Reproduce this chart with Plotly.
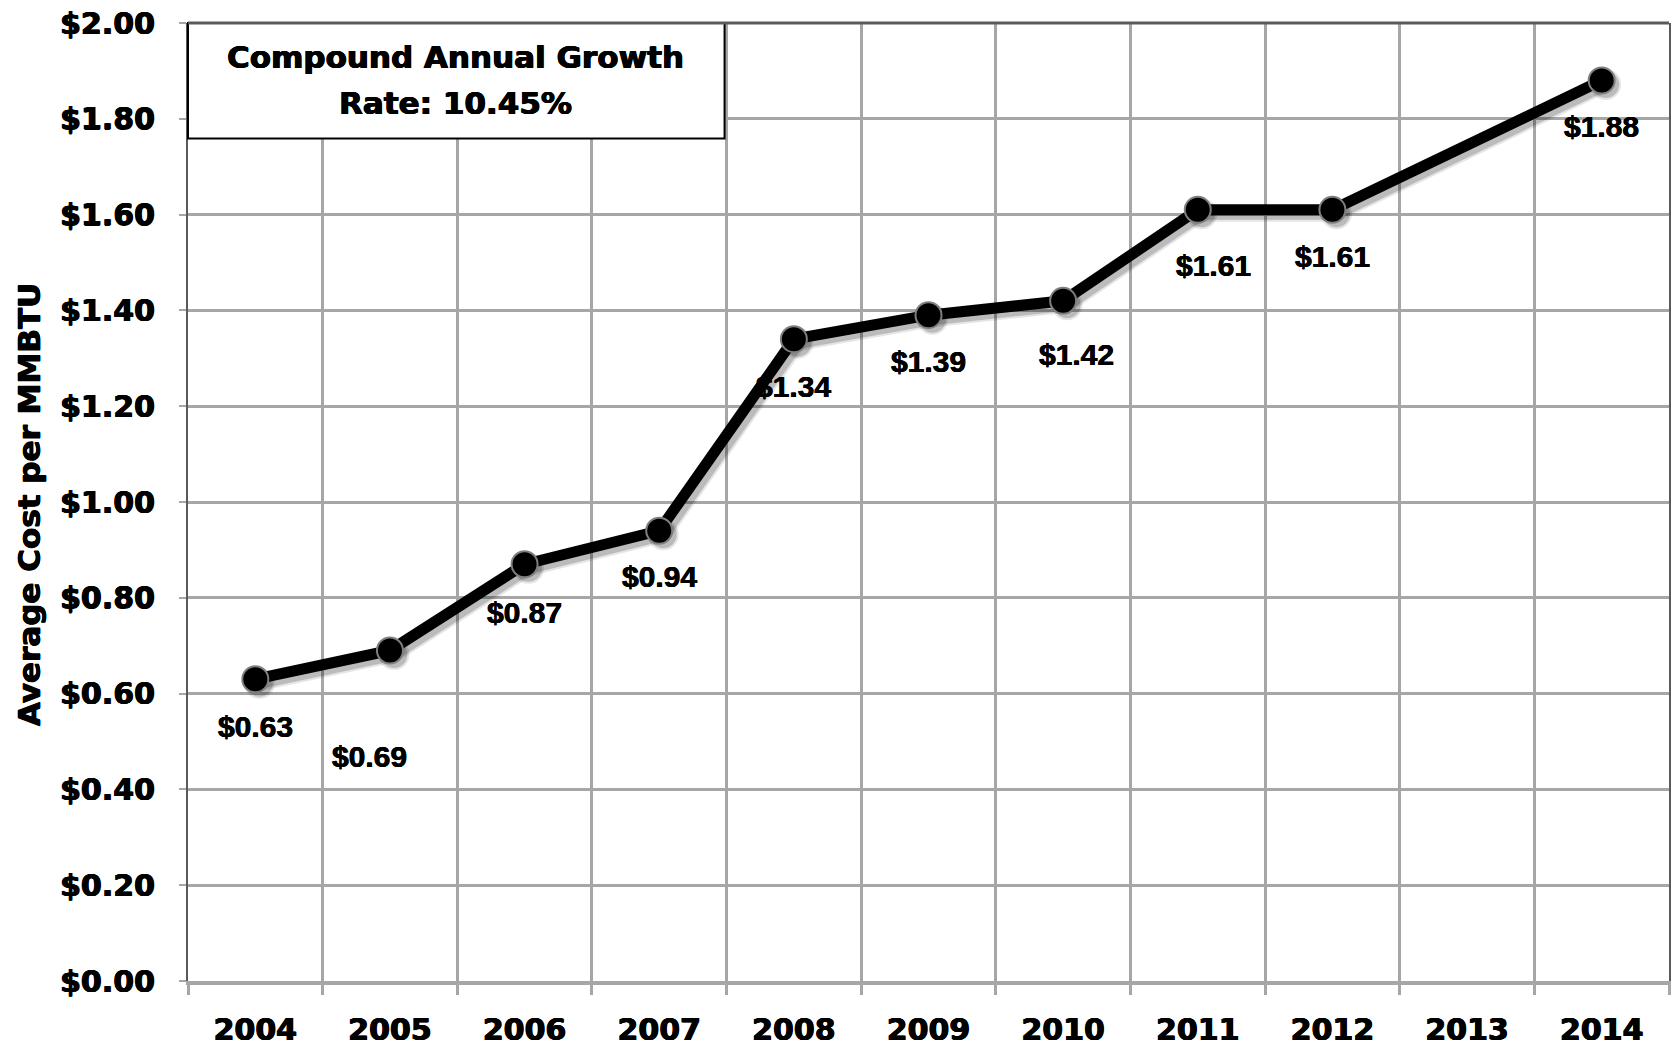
import plotly.graph_objects as go

# Average natural gas cost per MMBTU by year (2013 not reported)
years = ["2004", "2005", "2006", "2007", "2008", "2009", "2010", "2011", "2012", "2013", "2014"]
avg_cost = [0.63, 0.69, 0.87, 0.94, 1.34, 1.39, 1.42, 1.61, 1.61, None, 1.88]
y_ticks = [0.0, 0.2, 0.4, 0.6, 0.8, 1.0, 1.2, 1.4, 1.6, 1.8, 2.0]
y_tick_text = [f"${v:.2f}" for v in y_ticks]
cagr_lines = ["Compound Annual Growth", "Rate: 10.45%"]

# label offsets (px) relative to each point: (dx, dy)
label_offsets = [(0, -47), (-20, -106), (0, -48), (0, -46), (0, -47),
                 (0, -46), (13, -54), (16, -56), (0, -47), (0, 0), (0, -46)]

HEAVY = "DejaVu Sans, Arial Black, sans-serif"
LABEL = "Liberation Sans, Arial, sans-serif"
THICKEN = "0.6px 0 0 black, -0.6px 0 0 black, 0 0.4px 0 black"
THICKEN_LIGHT = "0.4px 0 0 black, -0.4px 0 0 black"
GRID = "#A6A6A6"
BORDER = "#5A5A5A"

X_RANGE = [-0.5, 10.5]
Y_RANGE = [0.0, 2.0]
PLOT_W, PLOT_H = 1672 - 188 - 3, 1046 - 23 - 65

fig = go.Figure()

# soft drop shadow under the series (drawn on an offset overlay axis pair)
sh_dx, sh_dy = 4, 4  # px right / down
dx_units = sh_dx * (X_RANGE[1] - X_RANGE[0]) / PLOT_W
dy_units = sh_dy * (Y_RANGE[1] - Y_RANGE[0]) / PLOT_H
for lw, ms, alpha in [(16, 31, 0.10), (12, 27, 0.18)]:
    fig.add_trace(go.Scatter(
        x=years, y=avg_cost, mode="lines+markers", connectgaps=True,
        xaxis="x2", yaxis="y2",
        line=dict(color=f"rgba(0,0,0,{alpha})", width=lw),
        marker=dict(size=ms, color=f"rgba(0,0,0,{alpha})", line=dict(width=0)),
        hoverinfo="skip", showlegend=False,
    ))

fig.add_trace(go.Scatter(
    x=years, y=avg_cost, mode="lines+markers", connectgaps=True,
    xaxis="x3", yaxis="y3",
    line=dict(color="black", width=11),
    marker=dict(size=26, color="black", line=dict(color="#7F7F7F", width=2)),
    hoverinfo="skip", showlegend=False,
))

for i, (val, (dx, dy)) in enumerate(zip(avg_cost, label_offsets)):
    if val is None:
        continue
    fig.add_annotation(
        x=i, y=val, xref="x", yref="y", text=f"${val:.2f}", showarrow=False,
        xshift=dx, yshift=dy, xanchor="center", yanchor="middle",
        font=dict(family=LABEL, size=30, color="black", weight="bold",
                  shadow=THICKEN_LIGHT),
    )

# Growth-rate callout box
fig.add_shape(type="rect", xref="paper", yref="paper",
              x0=0, x1=0.3623, y0=0.8794, y1=1.0,
              line=dict(color="black", width=2), fillcolor="white", layer="above")
for txt, ypos in zip(cagr_lines, [0.9644, 0.917]):
    fig.add_annotation(x=0.1808, y=ypos, xref="paper", yref="paper", text=txt,
                       showarrow=False, xanchor="center", yanchor="middle",
                       font=dict(family=HEAVY, size=31, color="black", weight="bold",
                                 shadow=THICKEN))

# Top border of plot area
fig.add_shape(type="line", xref="paper", yref="paper", x0=0, x1=1, y0=1, y1=1,
              line=dict(color=BORDER, width=3), layer="above")

# Y-axis title
fig.add_annotation(x=-0.1073, y=0.5, xref="paper", yref="paper",
                   text="Average Cost per MMBTU", textangle=-90, showarrow=False,
                   xanchor="center", yanchor="middle", yshift=-3,
                   font=dict(family=HEAVY, size=31, color="black", weight="bold",
                             shadow=THICKEN))

tick_font = dict(family=HEAVY, size=30, color="black", weight="bold", shadow=THICKEN)

fig.update_layout(
    xaxis=dict(
        type="category", categoryorder="array", categoryarray=years,
        tickson="boundaries", showgrid=True, gridcolor=GRID, gridwidth=3,
        showline=True, linecolor=GRID, linewidth=4,
        ticks="outside", ticklen=10, tickwidth=3, tickcolor=GRID,
        ticklabelstandoff=19, tickfont=tick_font,
        range=X_RANGE, fixedrange=True, automargin=False,
    ),
    yaxis=dict(
        range=Y_RANGE, tickmode="array", tickvals=y_ticks, ticktext=y_tick_text,
        showgrid=True, gridcolor=GRID, gridwidth=3, zeroline=False,
        showline=True, linecolor=BORDER, linewidth=2, mirror=True,
        ticks="outside", ticklen=7, tickwidth=2, tickcolor=GRID,
        ticklabelstandoff=18, tickfont=tick_font,
        fixedrange=True, automargin=False,
    ),
    xaxis2=dict(type="category", categoryorder="array", categoryarray=years,
                overlaying="x", visible=False, fixedrange=True,
                range=[X_RANGE[0] - dx_units, X_RANGE[1] - dx_units]),
    yaxis2=dict(overlaying="y", visible=False, fixedrange=True,
                range=[Y_RANGE[0] + dy_units, Y_RANGE[1] + dy_units]),
    xaxis3=dict(type="category", categoryorder="array", categoryarray=years,
                overlaying="x", visible=False, fixedrange=True, range=X_RANGE),
    yaxis3=dict(overlaying="y", visible=False, fixedrange=True, range=Y_RANGE),
    width=1672, height=1046, autosize=False,
    margin=dict(l=188, r=3, t=23, b=65),
    paper_bgcolor="white", plot_bgcolor="white",
)

fig.write_html("out.html", config={"displayModeBar": False})
